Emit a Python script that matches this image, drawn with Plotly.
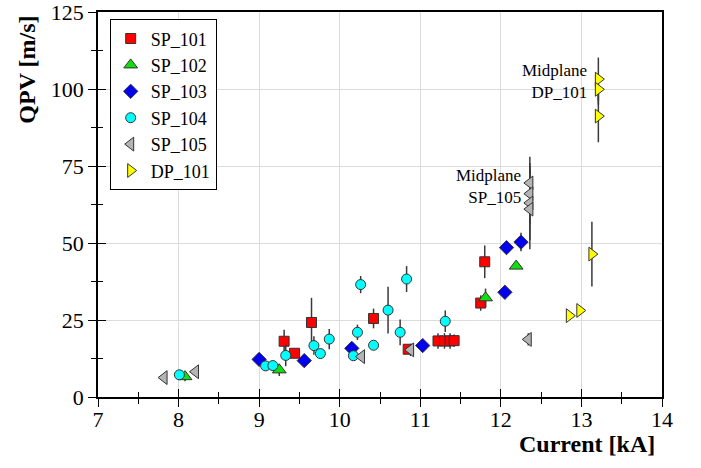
import plotly.graph_objects as go

# ---- data ----
sp101_x = [9.31, 9.44, 9.65, 10.42, 10.85, 11.22, 11.30, 11.37, 11.42, 11.75, 11.80]
sp101_y = [18.1, 14.2, 24.2, 25.5, 15.5, 18.2, 18.2, 18.2, 18.3, 30.5, 43.9]
sp101_e = [3.7, 0.0, 8.0, 3.2, 1.5, 2.5, 2.5, 2.5, 2.0, 2.5, 5.3]

sp102_x = [8.08, 9.25, 11.81, 12.19]
sp102_y = [6.6, 8.8, 32.2, 42.5]
sp102_e = [1.5, 2.0, 3.0, 0.0]

sp103_x = [9.00, 9.56, 10.15, 11.03, 12.05, 12.07, 12.25]
sp103_y = [12.2, 11.8, 15.8, 16.7, 34.0, 48.5, 50.3]
sp103_e = [0.0, 0.0, 1.5, 0.0, 0.0, 0.0, 3.0]

sp104_x = [8.01, 9.08, 9.17, 9.33, 9.68, 9.76, 9.87, 10.17, 10.22, 10.26, 10.42, 10.60, 10.75, 10.83, 11.31]
sp104_y = [7.2, 10.1, 10.2, 13.5, 16.7, 14.1, 18.8, 13.4, 21.0, 36.5, 16.8, 28.2, 21.0, 38.3, 24.6]
sp104_e = [0.0, 1.5, 0.0, 3.5, 3.0, 0.0, 3.3, 0.0, 2.5, 2.8, 0.0, 7.6, 4.2, 4.2, 3.5]

sp105_x = [7.82, 8.21, 10.27, 10.88, 12.34, 12.36, 12.36, 12.36, 12.36]
sp105_y = [6.3, 8.2, 13.1, 15.3, 18.7, 69.5, 66.0, 63.0, 61.0]
sp105_e = [0.0, 0.0, 0.0, 2.0, 2.0, 8.5, 10.0, 12.0, 13.0]

dp101_x = [12.85, 12.98, 13.13, 13.21, 13.21, 13.21]
dp101_y = [26.4, 28.1, 46.4, 103.2, 99.9, 91.2]
dp101_e = [0.0, 0.0, 10.5, 7.0, 5.0, 8.5]

x_ticks = [7, 8, 9, 10, 11, 12, 13, 14]
y_ticks = [0, 25, 50, 75, 100, 125]

FONT = "Liberation Serif, Times New Roman, Times, serif"
ERR_COLOR = "#3a3a3a"

series = [
    ("SP_101", sp101_x, sp101_y, sp101_e, "square", "#ff0000", 10),
    ("SP_102", sp102_x, sp102_y, sp102_e, "triangle-up", "#11dd11", 12),
    ("SP_103", sp103_x, sp103_y, sp103_e, "diamond", "#0000ee", 11),
    ("SP_104", sp104_x, sp104_y, sp104_e, "circle", "#00ffff", 10),
    ("SP_105", sp105_x, sp105_y, sp105_e, "triangle-left", "#b4b4b4", 12),
    ("DP_101", dp101_x, dp101_y, dp101_e, "triangle-right", "#ffff00", 12),
]

fig = go.Figure()
for name, xs, ys, es, sym, col, sz in series:
    fig.add_trace(go.Scatter(
        x=xs, y=ys, mode="markers", name=name,
        error_y=dict(type="data", array=es, visible=True, color=ERR_COLOR,
                     thickness=1.5, width=0),
        marker=dict(symbol=sym, color=col, size=sz,
                    line=dict(color="#333333", width=1)),
    ))

# invisible trace that carries the overlay axes (inside tick marks)
fig.add_trace(go.Scatter(x=[7, 14], y=[0, 125], xaxis="x2", yaxis="y2",
                         mode="markers", marker=dict(opacity=0),
                         showlegend=False, hoverinfo="skip"))

axis_common = dict(showline=True, linecolor="black", linewidth=1.5,
                   tickcolor="black", tickwidth=1.2, ticklen=8,
                   tickfont=dict(family=FONT, size=22, color="black"),
                   zeroline=False, automargin=False,
                   ticklabeloverflow="allow")

fig.update_layout(
    width=701, height=468,
    margin=dict(l=98, r=39, t=12, b=71, autoexpand=False),
    paper_bgcolor="white", plot_bgcolor="white",
    font=dict(family=FONT, color="black"),
    xaxis=dict(range=[7, 14], tickvals=x_ticks, ticks="outside",
               showgrid=True, gridcolor="#dcdcdc", gridwidth=1,
               mirror=True, ticklabelstandoff=-6,
               minor=dict(dtick=0.5, ticks="outside", ticklen=5,
                          tickcolor="black", showgrid=False),
               **axis_common),
    yaxis=dict(range=[0, 125], tickvals=y_ticks, ticks="outside",
               showgrid=True, gridcolor="#dcdcdc", gridwidth=1,
               mirror=True,
               minor=dict(dtick=12.5, ticks="outside", ticklen=5,
                          tickcolor="black", showgrid=False),
               **axis_common),
    xaxis2=dict(range=[7, 14], overlaying="x", side="bottom", anchor="y2",
                tickvals=x_ticks, ticks="inside", ticklen=8, tickcolor="black",
                tickwidth=1.2, showticklabels=False, showgrid=False,
                zeroline=False, showline=False, automargin=False,
                minor=dict(dtick=0.5, ticks="inside", ticklen=5,
                           tickcolor="black")),
    yaxis2=dict(range=[0, 125], overlaying="y", side="left", anchor="x2",
                tickvals=y_ticks, ticks="inside", ticklen=8, tickcolor="black",
                tickwidth=1.2, showticklabels=False, showgrid=False,
                zeroline=False, showline=False, automargin=False,
                minor=dict(dtick=12.5, ticks="inside", ticklen=5,
                           tickcolor="black")),
    legend=dict(x=0.0207, y=0.981, xanchor="left", yanchor="top",
                bgcolor="white", bordercolor="black", borderwidth=1,
                font=dict(family=FONT, size=18, color="black"),
                entrywidth=165, entrywidthmode="pixels",
                tracegroupgap=0),
    showlegend=True,
)

fig.add_annotation(text="<b>QPV [m/s]</b>", xref="paper", yref="paper",
                   x=-0.125, y=0.849, textangle=-90, showarrow=False,
                   font=dict(family=FONT, size=24, color="black"),
                   xanchor="center", yanchor="middle")
fig.add_annotation(text="<b>Current [kA]</b>", xref="paper", yref="paper",
                   x=0.991, y=-0.123, showarrow=False,
                   font=dict(family=FONT, size=24, color="black"),
                   xanchor="right", yanchor="middle")

fig.add_annotation(text="Midplane<br>SP_105", x=12.28, y=68.3,
                   showarrow=False, align="right", xanchor="right",
                   yanchor="middle",
                   font=dict(family=FONT, size=17, color="black"))
fig.add_annotation(text="Midplane<br>DP_101", x=13.09, y=102.3,
                   showarrow=False, align="right", xanchor="right",
                   yanchor="middle",
                   font=dict(family=FONT, size=17, color="black"))

fig.write_html("out.html")
